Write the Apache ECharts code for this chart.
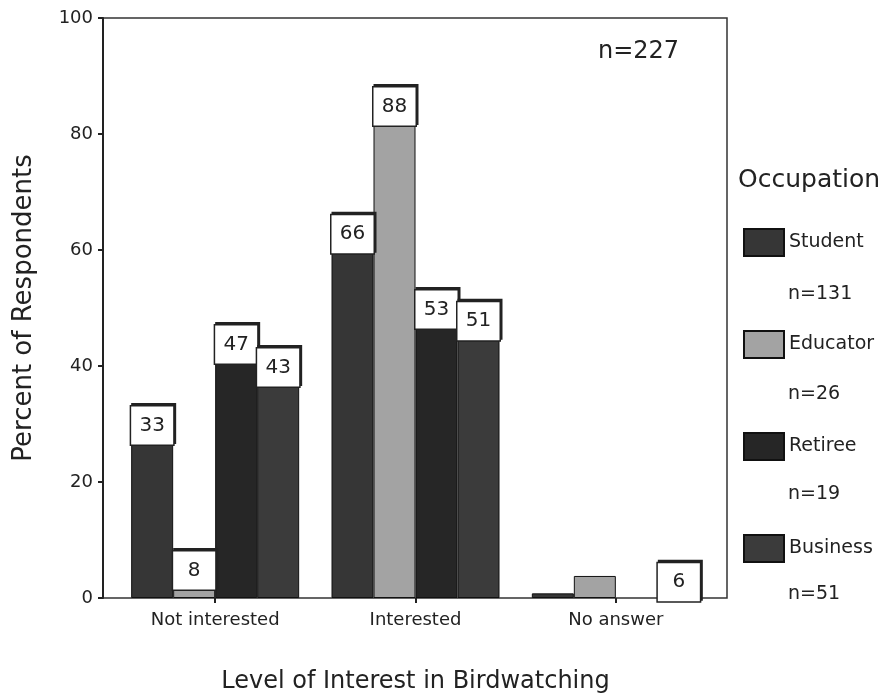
<!DOCTYPE html>
<html>
<head>
<meta charset="utf-8">
<style>
  html, body { margin: 0; padding: 0; background: #fff; }
  #chart { width: 882px; height: 697px; }
</style>
<script src="https://cdn.jsdelivr.net/npm/echarts@6/dist/echarts.min.js"></script>
</head>
<body>
<div id="chart"></div>
<script>
// Survey: interest in birdwatching by occupation (percent of respondents)
const categories = ['Not interested', 'Interested', 'No answer'];
const occupations = ['Student', 'Educator', 'Retiree', 'Business'];
const groupSizes = [131, 26, 19, 51];
const student = [33, 66, 0.8];
const educator = [8, 88, 3.8];
const retiree = [47, 53, 0];
const business = [43, 51, 6];
const yTicks = [0, 20, 40, 60, 80, 100];
const totalN = 227;

const seriesValues = [student, educator, retiree, business];
const colors = ['#363636', '#a3a3a3', '#262626', '#3b3b3b'];
const FONT = 'DejaVu Sans';

const chart = echarts.init(document.getElementById('chart'), null, { renderer: 'canvas' });

// legend layout
const legendLeft = 743, legendTop = 228, legendStep = 100, swatchW = 40, swatchH = 27;

const series = occupations.map((name, i) => ({
  name: name,
  type: 'bar',
  xAxisIndex: 1,
  yAxisIndex: 1,
  barWidth: 42,
  barGap: '0%',
  itemStyle: { color: colors[i], borderColor: '#111', borderWidth: 1 },
  data: seriesValues[i].map(v => ({
    value: v,
    label: { show: v >= 5 },
    // an empty bar leaves no outline on the axis
    itemStyle: v === 0 ? { borderWidth: 0, opacity: 0 } : undefined
  })),
  label: {
    position: 'insideTop',
    distance: 0,
    formatter: p => Math.round(p.value),
    fontFamily: FONT,
    fontSize: 20,
    color: '#222',
    backgroundColor: '#fff',
    borderColor: '#222',
    borderWidth: 1.5,
    width: 42,
    align: 'center',
    lineHeight: 22,
    padding: [8, 0, 8, 0],
    shadowColor: '#222',
    shadowOffsetX: 1.5,
    shadowOffsetY: -2,
    shadowBlur: 0
  }
}));

const option = {
  backgroundColor: '#fff',
  animation: false,
  title: [
    {
      text: 'n=' + totalN,
      left: 593, top: 35,
      textStyle: { fontFamily: FONT, fontSize: 24, fontWeight: 'normal', color: '#222' }
    },
    {
      text: 'Occupation',
      left: 733, top: 163,
      textStyle: { fontFamily: FONT, fontSize: 25, fontWeight: 'normal', color: '#222' }
    }
  ],
  legend: {
    data: occupations,
    orient: 'vertical',
    left: legendLeft,
    top: legendTop,
    itemWidth: swatchW,
    itemHeight: swatchH,
    itemGap: legendStep - swatchH,
    icon: 'rect',
    padding: 0,
    selectedMode: false,
    textStyle: { fontFamily: FONT, fontSize: 19, color: '#222' }
  },
  graphic: groupSizes.map((n, i) => ({
    type: 'text',
    left: legendLeft + swatchW + 5,
    top: legendTop + i * legendStep + 57,
    style: { text: 'n=' + n, fontFamily: FONT, fontSize: 19, fill: '#222' }
  })),
  grid: [
    // frame with the value axis
    { left: 103, right: 155, top: 18, bottom: 99, outerBoundsMode: 'none', show: true, borderColor: '#333', borderWidth: 1.5, backgroundColor: 'transparent' },
    // area holding the category groups
    { left: 115, right: 166, top: 18, bottom: 99, outerBoundsMode: 'none' }
  ],
  xAxis: [
    { gridIndex: 0, type: 'value', min: 0, max: 1, show: false },
    {
      gridIndex: 1,
      type: 'category',
      data: categories,
      axisLine: { show: false },
      axisTick: { show: true, alignWithLabel: true, length: 5, lineStyle: { color: '#222', width: 2 } },
      axisLabel: { fontFamily: FONT, fontSize: 18, color: '#222', margin: 13 },
      name: 'Level of Interest in Birdwatching',
      nameLocation: 'middle',
      nameGap: 72,
      nameTextStyle: { fontFamily: FONT, fontSize: 24, color: '#222' }
    }
  ],
  yAxis: [
    {
      gridIndex: 0,
      type: 'value',
      min: yTicks[0],
      max: yTicks[yTicks.length - 1],
      interval: yTicks[1] - yTicks[0],
      axisLine: { show: true, lineStyle: { color: '#222', width: 2 } },
      axisTick: { show: true, inside: false, length: 5, lineStyle: { color: '#222', width: 2 } },
      axisLabel: { fontFamily: FONT, fontSize: 18, color: '#222', margin: 10 },
      splitLine: { show: false },
      name: 'Percent of Respondents',
      nameLocation: 'middle',
      nameRotate: 90,
      nameGap: 66,
      nameTextStyle: { fontFamily: FONT, fontSize: 26, color: '#222' }
    },
    {
      gridIndex: 1,
      type: 'value',
      min: yTicks[0],
      max: yTicks[yTicks.length - 1],
      show: false,
      splitLine: { show: false }
    }
  ],
  series: series
};

chart.setOption(option);
</script>
</body>
</html>
